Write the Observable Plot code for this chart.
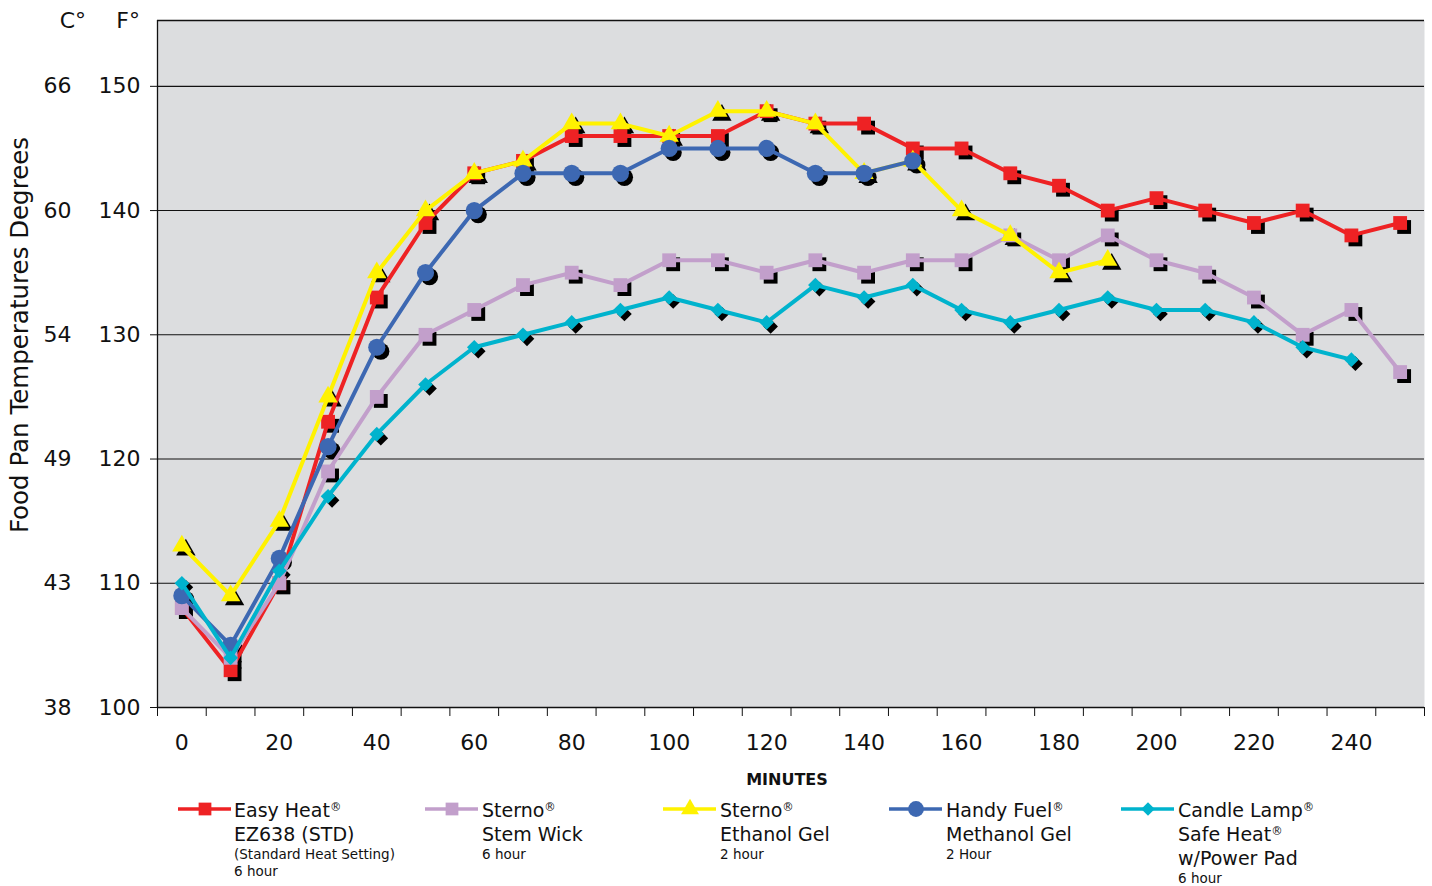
<!DOCTYPE html>
<html>
<head>
<meta charset="utf-8">
<script src="https://cdn.jsdelivr.net/npm/d3@7"></script>
<script src="https://cdn.jsdelivr.net/npm/@observablehq/plot@0.6"></script>
<style>
  body { margin: 0; background: #fff; font-family: "DejaVu Sans", sans-serif; }
  #wrap { position: relative; width: 1432px; height: 886px; overflow: hidden; }
  .leg { position: absolute; }
  .leg .big { font-size: 19px; line-height: 24px; height: 24px; }
  .leg .small { font-size: 13.5px; line-height: 17px; height: 17px; }
  sup { font-size: 0.6em; line-height: 0; vertical-align: 0; position: relative; top: -0.55em; }
</style>
</head>
<body>
<div id="wrap"></div>
<script>
const minutes = d3.range(0, 260, 10);
const easyHeat   = [108,103,110,123,133,139,143,144,146,146,146,146,148,147,147,145,145,143,142,140,141,140,139,140,138,139];
const sternoWick = [108,104,110,119,125,130,132,134,135,134,136,136,135,136,135,136,136,138,136,138,136,135,133,130,132,127];
const ethanolGel = [113,109,115,125,135,140,143,144,147,147,146,148,148,147,143,144,140,138,135,136];
const handyFuel  = [109,105,112,121,129,135,140,143,143,143,145,145,145,143,143,144];
const candleLamp = [110,104,111,117,122,126,129,130,131,132,133,132,131,134,133,134,132,131,132,133,132,132,131,129,128];

const seriesNames = ["Easy Heat", "Sterno Stem Wick", "Sterno Ethanol Gel", "Handy Fuel", "Candle Lamp"];
const seriesColors = ["#ee2224", "#c29fcb", "#fff200", "#3d68b2", "#00b3cd"];
const seriesSymbols = ["square", "square", "triangle", "circle", "diamond2"];
const seriesR = [7.8, 7.8, 7.2, 8.6, 6.6];
const seriesValues = [easyHeat, sternoWick, ethanolGel, handyFuel, candleLamp];

const fTicks = [100, 110, 120, 130, 140, 150];
const cLabels = ["38", "43", "49", "54", "60", "66"];
const xLabelTicks = d3.range(0, 241, 20);
const xBoundaryTicks = d3.range(-5, 256, 10);
const xDomain = [-5, 255];
const yDomain = [100, 155.3];

const legendLines = [
  [["big", "Easy Heat<sup>®</sup>"], ["big", "EZ638 (STD)"], ["small", "(Standard Heat Setting)"], ["small", "6 hour"]],
  [["big", "Sterno<sup>®</sup>"], ["big", "Stem Wick"], ["small", "6 hour"]],
  [["big", "Sterno<sup>®</sup>"], ["big", "Ethanol Gel"], ["small", "2 hour"]],
  [["big", "Handy Fuel<sup>®</sup>"], ["big", "Methanol Gel"], ["small", "2 Hour"]],
  [["big", "Candle Lamp<sup>®</sup>"], ["big", "Safe Heat<sup>®</sup>"], ["big", "w/Power Pad"], ["small", "6 hour"]]
];
const legendX = [178, 425, 663, 889, 1121];

const rows = [];
seriesValues.forEach((vals, s) => {
  vals.forEach((v, i) => rows.push({series: seriesNames[s], s, minute: minutes[i], temp: v}));
});

const marks = [
  Plot.frame({fill: "#dcdddf", stroke: null}),
  Plot.gridY(fTicks.slice(1), {stroke: "#111", strokeOpacity: 1, strokeWidth: 1.1}),
  Plot.ruleY([yDomain[0]], {stroke: "#111", strokeWidth: 1.3}),
  Plot.ruleY([yDomain[1]], {stroke: "#111", strokeWidth: 1.3}),
  Plot.ruleX([xDomain[0]], {stroke: "#111", strokeWidth: 1.3}),
  Plot.axisY({ticks: fTicks, tickSize: 7, tickPadding: 10, fontSize: 22, label: null, stroke: "#111"}),
  Plot.axisY({ticks: fTicks, tickSize: 0, tickPadding: 86, fontSize: 22, label: null, tickFormat: d => cLabels[fTicks.indexOf(d)]}),
  Plot.axisX({ticks: xBoundaryTicks, tickSize: 9, tickFormat: () => "", label: null, stroke: "#111"}),
  Plot.axisX({ticks: xLabelTicks, tickSize: 0, tickPadding: 27, fontSize: 22, label: null}),
];
// shadows
seriesValues.forEach((vals, s) => {
  marks.push(Plot.dot(rows.filter(d => d.s === s), {
    x: "minute", y: "temp", symbol: () => seriesSymbols[s], r: seriesR[s], fill: "#000", dx: 4, dy: 4
  }));
});
// lines and markers
seriesValues.forEach((vals, s) => {
  const data = rows.filter(d => d.s === s);
  marks.push(Plot.line(data, {x: "minute", y: "temp", stroke: seriesColors[s], strokeWidth: 4, curve: "linear"}));
  marks.push(Plot.dot(data, {x: "minute", y: "temp", symbol: () => seriesSymbols[s], r: seriesR[s], fill: seriesColors[s], stroke: null}));
});

const chart = Plot.plot({
  width: 1432,
  height: 800,
  marginTop: 20,
  marginLeft: 157,
  marginRight: 8,
  marginBottom: 93,
  style: {fontFamily: "DejaVu Sans, sans-serif", color: "#111", background: "transparent"},
  x: {domain: xDomain, axis: null},
  y: {domain: yDomain, axis: null},
  symbol: {type: "identity"},
  marks
});

const wrap = document.getElementById("wrap");
chart.style.position = "absolute";
chart.style.left = "0px";
chart.style.top = "0px";
wrap.appendChild(chart);

const svg = d3.select(chart);
svg.append("text")
  .attr("transform", "translate(28,335) rotate(-90)")
  .attr("text-anchor", "middle")
  .attr("font-size", 24.5)
  .attr("fill", "#111")
  .text("Food Pan Temperatures Degrees");
svg.append("text")
  .attr("x", 787).attr("y", 785)
  .attr("text-anchor", "middle")
  .attr("font-size", 16)
  .attr("font-weight", "bold")
  .attr("fill", "#111")
  .text("MINUTES");
svg.append("text").attr("x", 86).attr("y", 28).attr("text-anchor", "end").attr("font-size", 22).attr("fill", "#111").text("C°");
svg.append("text").attr("x", 140).attr("y", 28).attr("text-anchor", "end").attr("font-size", 22).attr("fill", "#111").text("F°");

// legend
legendLines.forEach((lines, s) => {
  const item = document.createElement("div");
  item.className = "leg";
  item.style.left = legendX[s] + "px";
  item.style.top = "798px";
  const sw = d3.create("svg").attr("width", 54).attr("height", 24)
    .style("position", "absolute").style("left", "0px").style("top", "0px");
  sw.append("line").attr("x1", 0).attr("x2", 53).attr("y1", 11).attr("y2", 11)
    .attr("stroke", seriesColors[s]).attr("stroke-width", 3.5);
  sw.append("path").attr("transform", "translate(27,11)")
    .attr("d", d3.symbol(
      {square: d3.symbolSquare, triangle: d3.symbolTriangle, circle: d3.symbolCircle, diamond2: d3.symbolDiamond2}[seriesSymbols[s]],
      Math.PI * seriesR[s] * seriesR[s] * 0.85)())
    .attr("fill", seriesColors[s]);
  item.appendChild(sw.node());
  const txt = document.createElement("div");
  txt.style.position = "absolute";
  txt.style.left = (s === 0 ? 56 : 57) + "px";
  txt.style.top = "0px";
  txt.style.whiteSpace = "nowrap";
  txt.style.color = "#111";
  txt.innerHTML = lines.map(([cls, t]) => `<div class="${cls}">${t}</div>`).join("");
  item.appendChild(txt);
  wrap.appendChild(item);
});
</script>
</body>
</html>
